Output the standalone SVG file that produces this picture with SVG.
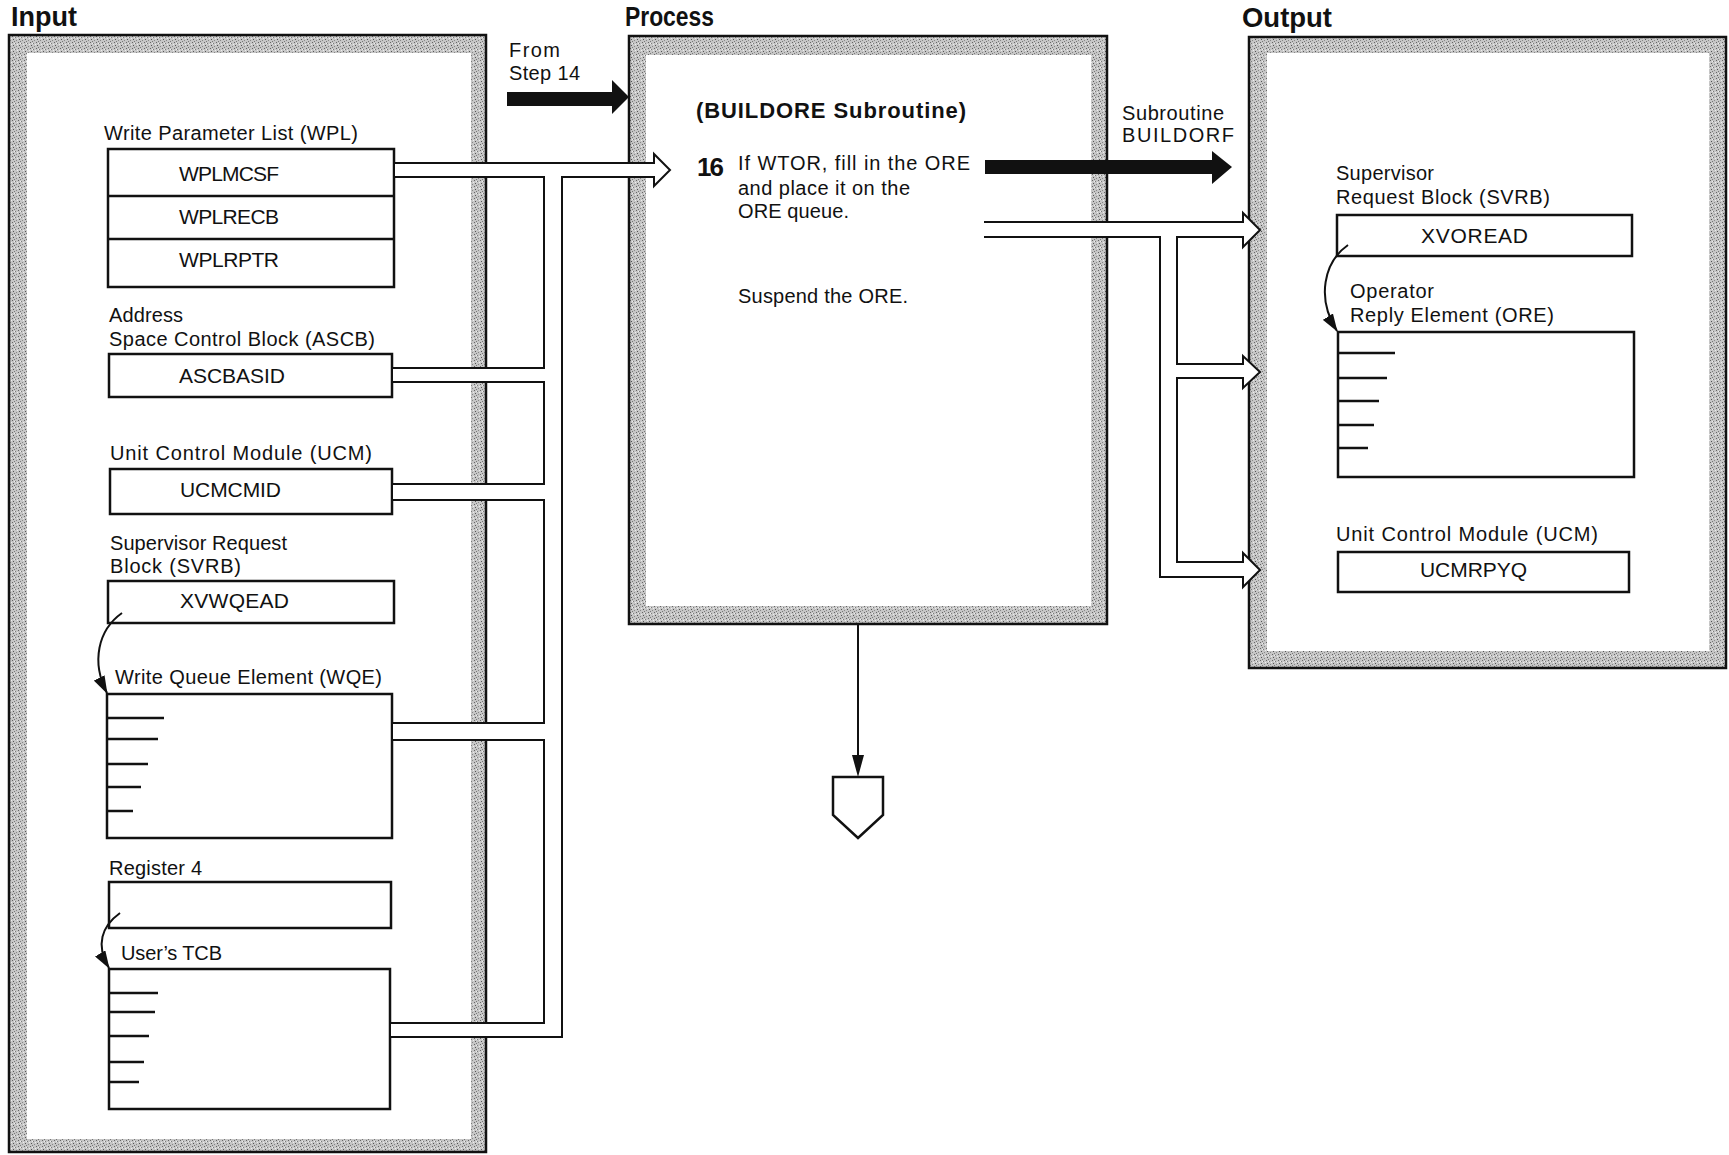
<svg xmlns="http://www.w3.org/2000/svg" width="1729" height="1155" viewBox="0 0 1729 1155">
<style>
.t{font-family:"Liberation Sans",Arial,sans-serif;font-size:20px;fill:#111}
.f{font-family:"Liberation Sans",Arial,sans-serif;font-size:21px;fill:#111}
.h{font-family:"Liberation Sans",Arial,sans-serif;font-size:27px;font-weight:bold;fill:#111}
.b{font-family:"Liberation Sans",Arial,sans-serif;font-weight:bold;fill:#111}
.box{fill:#fff;stroke:#111;stroke-width:2.5}
.tick{stroke:#111;stroke-width:2.5;fill:none}
.pipe{fill:#fff;stroke:#111;stroke-width:2}
.curve{fill:none;stroke:#111;stroke-width:2}
.outer{fill:url(#stip);stroke:#111;stroke-width:2.5}
.inner{fill:#fff}
</style>
<defs>
<pattern id="stip" width="6" height="6" patternUnits="userSpaceOnUse">
<rect width="6" height="6" fill="#c6c6c6"/>
<rect x="0" y="0" width="1" height="1" fill="#666"/>
<rect x="3" y="1" width="1" height="1" fill="#7a7a7a"/>
<rect x="1" y="3" width="1" height="1" fill="#555"/>
<rect x="4" y="4" width="1" height="1" fill="#888"/>
<rect x="5" y="2" width="1" height="1" fill="#eee"/>
<rect x="2" y="5" width="1" height="1" fill="#777"/>
<rect x="2" y="1" width="1" height="1" fill="#eee"/>
</pattern>
<marker id="ah" viewBox="0 0 18 12" refX="17" refY="6" markerWidth="18" markerHeight="12" markerUnits="userSpaceOnUse" orient="auto">
<path d="M0,0 L18,6 L0,12 z" fill="#111"/>
</marker>
</defs>
<rect width="1729" height="1155" fill="#fff"/>

<g id="titles">
<text class="h" x="11" y="26" textLength="66" lengthAdjust="spacingAndGlyphs">Input</text>
<text class="h" x="625" y="26" textLength="89" lengthAdjust="spacingAndGlyphs">Process</text>
<text class="h" x="1242" y="27" textLength="90" lengthAdjust="spacingAndGlyphs">Output</text>
</g>

<g id="input-panel">
<rect class="outer" x="9" y="35" width="477" height="1117"/>
<rect class="inner" x="27" y="53" width="444" height="1086"/>
</g>
<g id="process-panel">
<rect class="outer" x="629" y="36" width="478" height="588"/>
<rect class="inner" x="646" y="55" width="445" height="551"/>
</g>
<g id="output-panel">
<rect class="outer" x="1249" y="37" width="477" height="631"/>
<rect class="inner" x="1267" y="53" width="442" height="598"/>
</g>

<g id="wpl">
<text class="t" x="104" y="140" textLength="254" lengthAdjust="spacing">Write Parameter List (WPL)</text>
<rect class="box" x="108" y="149" width="286" height="138"/>
<line class="tick" x1="108" y1="196" x2="394" y2="196"/>
<line class="tick" x1="108" y1="239" x2="394" y2="239"/>
<text class="f" x="179" y="181" textLength="100" lengthAdjust="spacing">WPLMCSF</text>
<text class="f" x="179" y="224" textLength="100" lengthAdjust="spacing">WPLRECB</text>
<text class="f" x="179" y="267" textLength="100" lengthAdjust="spacing">WPLRPTR</text>
</g>

<g id="ascb">
<text class="t" x="109" y="322" textLength="74" lengthAdjust="spacing">Address</text>
<text class="t" x="109" y="346" textLength="266" lengthAdjust="spacing">Space Control Block (ASCB)</text>
<rect class="box" x="109" y="354" width="283" height="43"/>
<text class="f" x="179" y="383" textLength="106" lengthAdjust="spacing">ASCBASID</text>
</g>

<g id="ucm-in">
<text class="t" x="110" y="460" textLength="262" lengthAdjust="spacing">Unit Control Module (UCM)</text>
<rect class="box" x="110" y="469" width="282" height="45"/>
<text class="f" x="180" y="497" textLength="101" lengthAdjust="spacing">UCMCMID</text>
</g>

<g id="svrb-in">
<text class="t" x="110" y="550" textLength="177" lengthAdjust="spacing">Supervisor Request</text>
<text class="t" x="110" y="573" textLength="131" lengthAdjust="spacing">Block (SVRB)</text>
<rect class="box" x="108" y="581" width="286" height="42"/>
<text class="f" x="180" y="608" textLength="109" lengthAdjust="spacing">XVWQEAD</text>
</g>

<g id="wqe">
<text class="t" x="115" y="684" textLength="267" lengthAdjust="spacing">Write Queue Element (WQE)</text>
<rect class="box" x="107" y="694" width="285" height="144"/>
<path class="tick" d="M107,718 H164 M107,739 H158 M107,764 H148 M107,787 H141 M107,811 H133"/>
</g>

<g id="reg4">
<text class="t" x="109" y="875" textLength="93" lengthAdjust="spacing">Register 4</text>
<rect class="box" x="109" y="882" width="282" height="46"/>
</g>

<g id="tcb">
<text class="t" x="121" y="960" textLength="101" lengthAdjust="spacing">User’s TCB</text>
<rect class="box" x="109" y="969" width="281" height="140"/>
<path class="tick" d="M109,993 H158 M109,1012 H155 M109,1036 H149 M109,1062 H144 M109,1082 H139"/>
</g>

<g id="from-step">
<text class="t" x="509" y="57" textLength="51" lengthAdjust="spacing">From</text>
<text class="t" x="509" y="80" textLength="71" lengthAdjust="spacing">Step 14</text>
</g>

<g id="step16">
<text class="b" x="696" y="118" font-size="22" textLength="270" lengthAdjust="spacing">(BUILDORE Subroutine)</text>
<text class="b" x="697" y="176" font-size="26" textLength="27" lengthAdjust="spacing">16</text>
<text class="t" x="738" y="170" textLength="232" lengthAdjust="spacing">If WTOR, fill in the ORE</text>
<text class="t" x="738" y="195" textLength="172" lengthAdjust="spacing">and place it on the</text>
<text class="t" x="738" y="218" textLength="111" lengthAdjust="spacing">ORE queue.</text>
<text class="t" x="738" y="303" textLength="170" lengthAdjust="spacing">Suspend the ORE.</text>
</g>

<g id="buildorf">
<text class="t" x="1122" y="120" textLength="102" lengthAdjust="spacing">Subroutine</text>
<text class="t" x="1122" y="142" textLength="112" lengthAdjust="spacing">BUILDORF</text>
</g>

<g id="svrb-out">
<text class="t" x="1336" y="180" textLength="98" lengthAdjust="spacing">Supervisor</text>
<text class="t" x="1336" y="204" textLength="214" lengthAdjust="spacing">Request Block (SVRB)</text>
<rect class="box" x="1337" y="215" width="295" height="41"/>
<text class="f" x="1421" y="243" textLength="107" lengthAdjust="spacing">XVOREAD</text>
</g>

<g id="ore">
<text class="t" x="1350" y="298" textLength="84" lengthAdjust="spacing">Operator</text>
<text class="t" x="1350" y="322" textLength="204" lengthAdjust="spacing">Reply Element (ORE)</text>
<rect class="box" x="1338" y="332" width="296" height="145"/>
<path class="tick" d="M1338,353 H1395 M1338,378 H1387 M1338,401 H1379 M1338,425 H1374 M1338,448 H1368"/>
</g>

<g id="ucm-out">
<text class="t" x="1336" y="541" textLength="262" lengthAdjust="spacing">Unit Control Module (UCM)</text>
<rect class="box" x="1338" y="552" width="291" height="40"/>
<text class="f" x="1420" y="577" textLength="107" lengthAdjust="spacing">UCMRPYQ</text>
</g>

<g id="offpage">
<path d="M833,777 H883 V815 L858,838 L833,815 Z" fill="#fff" stroke="#111" stroke-width="2.5" stroke-linejoin="miter"/>
</g>

<g id="connectors">
<path class="pipe" d="M394,163 H654 V154 L670,170 L654,186 V177 H562 V1037 H390 V1023 H544 V740 H392 V723 H544 V500 H392 V484 H544 V382 H392 V368 H544 V177 H394 Z"/>
<path class="pipe" d="M984,222 H1243 V213 L1260,230 L1243,247 V237 H1177 V364 H1243 V356 L1260,372 L1243,388 V378 H1177 V562 H1243 V553 L1260,570 L1243,587 V577 H1160 V237 H984"/>
<polygon points="507,92 612,92 612,80 629,97 612,114 612,106 507,106" fill="#111"/>
<polygon points="985,160 1212,160 1212,151 1232,167 1212,184 1212,174 985,174" fill="#111"/>
<line x1="858" y1="624" x2="858" y2="758" stroke="#111" stroke-width="2"/>
<polygon points="852,755 864,755 858,777" fill="#111"/>
<path class="curve" d="M122,613 C98,630 91,662 107,693" marker-end="url(#ah)"/>
<path class="curve" d="M120,913 C102,926 95,945 109,968" marker-end="url(#ah)"/>
<path class="curve" d="M1348,245 C1324,262 1316,298 1337,331" marker-end="url(#ah)"/>
</g>
</svg>
